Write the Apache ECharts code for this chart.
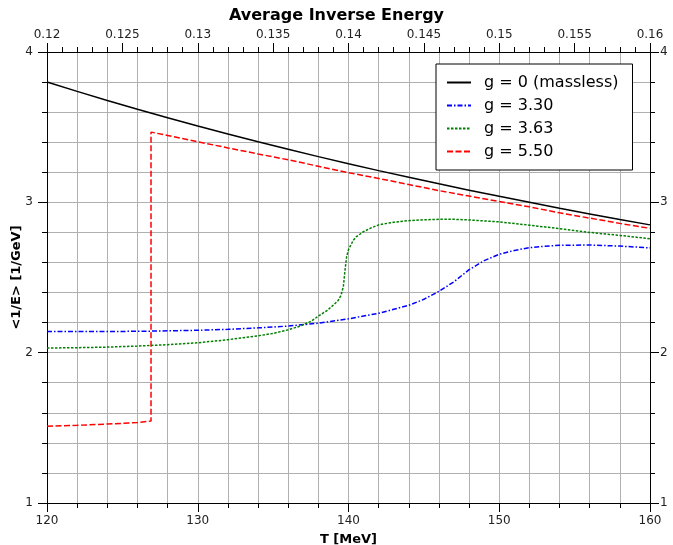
<!DOCTYPE html>
<html>
<head>
<meta charset="utf-8">
<script src="https://cdn.jsdelivr.net/npm/echarts@6/dist/echarts.min.js"></script>
<style>
  html, body { margin: 0; padding: 0; background: #fff; }
  #chart { width: 673px; height: 545px; }
</style>
</head>
<body>
<div id="chart"></div>
<script>
// Temperature grid [MeV] and average inverse energy <1/E> [1/GeV]
const tMassless = [120, 122, 124, 126, 128, 130, 132, 134, 136, 138, 140, 142, 144, 146, 148, 150, 152, 154, 156, 158, 160];
const yMassless = [3.80, 3.738, 3.677, 3.619, 3.563, 3.508, 3.455, 3.403, 3.353, 3.304, 3.257, 3.211, 3.167, 3.123, 3.081, 3.040, 3.000, 2.961, 2.923, 2.886, 2.850];

const tG330 = [120, 122, 124, 126, 128, 130, 132, 134, 136, 138, 140, 142, 144, 145, 146, 147, 148, 149, 150, 151, 152, 153, 154, 156, 158, 160];
const yG330 = [2.140, 2.140, 2.141, 2.142, 2.145, 2.149, 2.155, 2.165, 2.177, 2.196, 2.225, 2.262, 2.315, 2.355, 2.408, 2.472, 2.552, 2.612, 2.655, 2.680, 2.698, 2.708, 2.714, 2.716, 2.709, 2.697];

const tG363 = [120, 122, 124, 126, 128, 130, 132, 134, 135, 136, 136.8, 137.5, 138.1, 138.6, 139, 139.3, 139.5, 139.66, 139.77, 139.88, 140, 140.1, 140.3, 140.5, 141, 141.5, 142, 143, 144, 145, 146, 147, 148, 150, 152, 154, 156, 158, 160];
const yG363 = [2.031, 2.033, 2.037, 2.044, 2.053, 2.066, 2.086, 2.112, 2.128, 2.152, 2.177, 2.208, 2.250, 2.282, 2.317, 2.345, 2.380, 2.440, 2.550, 2.640, 2.685, 2.705, 2.745, 2.770, 2.805, 2.830, 2.850, 2.868, 2.878, 2.884, 2.887, 2.887, 2.883, 2.870, 2.848, 2.825, 2.800, 2.780, 2.758];

const tG550 = [120, 122, 124, 126, 126.9, 126.9, 128, 130, 132, 134, 136, 138, 140, 142, 144, 146, 148, 150, 152, 154, 156, 158, 160];
const yG550 = [1.511, 1.517, 1.525, 1.535, 1.545, 3.467, 3.445, 3.403, 3.362, 3.322, 3.283, 3.240, 3.197, 3.159, 3.118, 3.078, 3.042, 3.005, 2.970, 2.930, 2.895, 2.860, 2.827];

const seriesNames = ['g = 0 (massless)', 'g = 3.30', 'g = 3.63', 'g = 5.50'];

const zip = (xs, ys) => xs.map((x, i) => [x, ys[i]]);

const FONT = 'DejaVu Sans';
const GRID_COLOR = '#b0b0b0';

function makeLine(name, xs, ys, color, dash) {
  return {
    name: name,
    type: 'line',
    data: zip(xs, ys),
    showSymbol: false,
    symbol: 'none',
    xAxisIndex: 0,
    yAxisIndex: 0,
    lineStyle: { color: color, width: 1.5, type: dash },
    itemStyle: { color: color },
    emphasis: { disabled: true }
  };
}

const chart = echarts.init(document.getElementById('chart'), null, { renderer: 'canvas' });

chart.setOption({
  animation: false,
  backgroundColor: '#ffffff',
  textStyle: { fontFamily: FONT },
  title: {
    text: 'Average Inverse Energy',
    left: 'center',
    top: 3,
    textStyle: { fontFamily: FONT, fontSize: 16, fontWeight: 'bold', color: '#000' }
  },
  grid: { left: 47, top: 52, width: 603, height: 451, containLabel: false, outerBoundsMode: 'none' },
  legend: {
    orient: 'vertical',
    left: 436,
    top: 64,
    padding: [10, 14, 10, 10],
    itemGap: 6,
    itemWidth: 24,
    itemHeight: 14,
    backgroundColor: '#ffffff',
    borderColor: '#000000',
    borderWidth: 1,
    borderRadius: 0,
    data: seriesNames,
    itemStyle: { opacity: 0, borderWidth: 0 },
    textStyle: { fontFamily: FONT, fontSize: 16, color: '#000', padding: [0, 0, 0, 8], lineHeight: 17 }
  },
  xAxis: [
    {
      type: 'value',
      position: 'bottom',
      min: 120, max: 160, interval: 10,
      name: 'T [MeV]',
      nameLocation: 'middle',
      nameGap: 30,
      nameTextStyle: { fontFamily: FONT, fontSize: 13, fontWeight: 'bold', color: '#000' },
      axisLine: { show: true, onZero: false, lineStyle: { color: '#000', width: 1 } },
      axisTick: { show: true, inside: false, length: 9, lineStyle: { color: '#000' } },
      minorTick: { show: true, splitNumber: 5, length: 5, lineStyle: { color: '#000' } },
      axisLabel: { fontFamily: FONT, fontSize: 12, color: '#222', margin: 12 },
      splitLine: { show: true, lineStyle: { color: GRID_COLOR, width: 1 } },
      minorSplitLine: { show: true, lineStyle: { color: GRID_COLOR, width: 1 } }
    },
    {
      type: 'value',
      position: 'top',
      min: 0.12, max: 0.16, interval: 0.005,
      axisLine: { show: true, onZero: false, lineStyle: { color: '#000', width: 1 } },
      axisTick: { show: true, inside: false, length: 9, lineStyle: { color: '#000' } },
      minorTick: { show: true, splitNumber: 5, length: 5, lineStyle: { color: '#000' } },
      axisLabel: {
        fontFamily: FONT, fontSize: 12, color: '#222', margin: 11,
        formatter: v => String(parseFloat(v.toFixed(3)))
      },
      splitLine: { show: false },
      minorSplitLine: { show: false }
    }
  ],
  yAxis: [
    {
      type: 'value',
      position: 'left',
      min: 1, max: 4, interval: 1,
      name: '<1/E> [1/GeV]',
      nameLocation: 'middle',
      nameGap: 24,
      nameRotate: 90,
      nameMoveOverlap: false,
      nameTextStyle: { fontFamily: FONT, fontSize: 13, fontWeight: 'bold', color: '#000' },
      axisLine: { show: true, onZero: false, lineStyle: { color: '#000', width: 1 } },
      axisTick: { show: true, inside: false, length: 9, lineStyle: { color: '#000' } },
      minorTick: { show: true, splitNumber: 5, length: 5, lineStyle: { color: '#000' } },
      axisLabel: { fontFamily: FONT, fontSize: 12, color: '#222', margin: 14 },
      splitLine: { show: true, lineStyle: { color: GRID_COLOR, width: 1 } },
      minorSplitLine: { show: true, lineStyle: { color: GRID_COLOR, width: 1 } }
    },
    {
      type: 'value',
      position: 'right',
      min: 1, max: 4, interval: 1,
      axisLine: { show: true, onZero: false, lineStyle: { color: '#000', width: 1 } },
      axisTick: { show: true, inside: false, length: 9, lineStyle: { color: '#000' } },
      minorTick: { show: true, splitNumber: 5, length: 5, lineStyle: { color: '#000' } },
      axisLabel: { fontFamily: FONT, fontSize: 12, color: '#222', margin: 10 },
      splitLine: { show: false },
      minorSplitLine: { show: false }
    }
  ],
  series: [
    makeLine(seriesNames[0], tMassless, yMassless, '#000000', 'solid'),
    makeLine(seriesNames[1], tG330, yG330, '#0000ff', [5, 2, 1.5, 2]),
    makeLine(seriesNames[2], tG363, yG363, '#008000', [2.5, 1.5]),
    makeLine(seriesNames[3], tG550, yG550, '#ff0000', [6, 2.5])
  ]
});
</script>
</body>
</html>
